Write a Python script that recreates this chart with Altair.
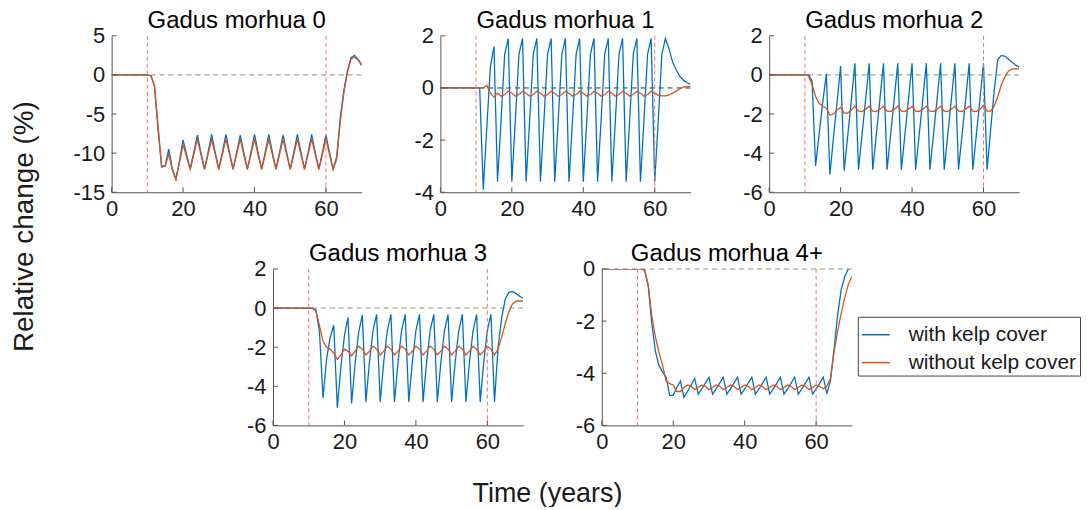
import altair as alt
import pandas as pd

FONT = "Liberation Sans"

YEARS = list(range(71))
SERIES = ["with kelp cover", "without kelp cover"]
COLORS = ["#0072BD", "#D95319"]
XTICKS = [0, 20, 40, 60]
EVENTS = [10, 60]

TITLES = ["Gadus morhua 0", "Gadus morhua 1", "Gadus morhua 2",
          "Gadus morhua 3", "Gadus morhua 4+"]

GM0_WITH = [0, 0, 0, 0, 0, 0, 0, 0, 0, 0, 0,
            -0.1, -1.5, -7.0, -11.8, -11.6,
            -9.5, -12.0, -13.3, -11.0,
            -8.3, -10.2, -12.0, -9.9,
            -7.7, -9.9, -12.0, -9.9,
            -7.6, -9.9, -12.0, -9.9,
            -7.6, -9.9, -12.0, -9.9,
            -7.7, -9.9, -12.0, -9.9,
            -7.6, -9.9, -12.0, -9.9,
            -7.6, -9.9, -12.0, -9.9,
            -7.7, -9.9, -12.0, -9.9,
            -7.6, -9.9, -12.0, -9.9,
            -7.6, -9.9, -12.0, -9.9,
            -7.7, -9.9, -12.0, -10.5,
            -5.5, -2.0, 0.5, 2.2,
            2.5, 2.0, 1.3]
GM0_WITHOUT = [0, 0, 0, 0, 0, 0, 0, 0, 0, 0, 0,
               -0.1, -1.3, -6.5, -11.6, -11.7,
               -10.1, -12.2, -13.4, -11.2,
               -8.9, -10.5, -12.1, -10.2,
               -8.2, -10.2, -12.1, -10.2,
               -8.2, -10.2, -12.1, -10.2,
               -8.2, -10.2, -12.1, -10.2,
               -8.2, -10.2, -12.1, -10.2,
               -8.2, -10.2, -12.1, -10.2,
               -8.2, -10.2, -12.1, -10.2,
               -8.2, -10.2, -12.1, -10.2,
               -8.2, -10.2, -12.1, -10.2,
               -8.2, -10.2, -12.1, -10.2,
               -8.2, -10.2, -12.1, -10.8,
               -6.0, -2.3, 0.3, 2.0,
               2.3, 1.9, 1.2]

GM1_WITH = [0, 0, 0, 0, 0, 0, 0, 0, 0, 0, 0, 0,
            -3.9, -1.5, 0.8, 1.6,
            -3.6, -1.2, 1.3, 1.9,
            -3.6, -1.2, 1.3, 1.9,
            -3.6, -1.2, 1.3, 1.9,
            -3.6, -1.2, 1.3, 1.9,
            -3.6, -1.2, 1.3, 1.9,
            -3.6, -1.2, 1.3, 1.9,
            -3.6, -1.2, 1.3, 1.9,
            -3.6, -1.2, 1.3, 1.9,
            -3.6, -1.2, 1.3, 1.9,
            -3.6, -1.2, 1.3, 1.9,
            -3.6, -1.2, 1.3, 1.9,
            -3.6, -1.2, 1.3, 1.9,
            1.5, 1.0, 0.7, 0.45,
            0.3, 0.2, 0.15]
GM1_WITHOUT = [0, 0, 0, 0, 0, 0, 0, 0, 0, 0, 0, 0,
               0.0, 0.1, -0.2, -0.35,
               -0.2, -0.32, -0.25, -0.13,
               -0.2, -0.32, -0.25, -0.13,
               -0.2, -0.32, -0.25, -0.13,
               -0.2, -0.32, -0.25, -0.13,
               -0.2, -0.32, -0.25, -0.13,
               -0.2, -0.32, -0.25, -0.13,
               -0.2, -0.32, -0.25, -0.13,
               -0.2, -0.32, -0.25, -0.13,
               -0.2, -0.32, -0.25, -0.13,
               -0.2, -0.32, -0.25, -0.13,
               -0.2, -0.32, -0.25, -0.13,
               -0.2, -0.28, -0.3, -0.3,
               -0.27, -0.2, -0.12, -0.04,
               0.03, 0.05, 0.05]

GM2_WITH = [0, 0, 0, 0, 0, 0, 0, 0, 0, 0, 0, 0,
            -0.3, -4.65, -3.0, -1.4,
            0.06, -5.1, -3.2, -1.4,
            0.45, -4.9, -3.1, -1.3,
            0.6, -4.85, -3.05, -1.25,
            0.6, -4.85, -3.05, -1.25,
            0.6, -4.85, -3.05, -1.25,
            0.6, -4.85, -3.05, -1.25,
            0.6, -4.85, -3.05, -1.25,
            0.6, -4.85, -3.05, -1.25,
            0.6, -4.85, -3.05, -1.25,
            0.6, -4.85, -3.05, -1.25,
            0.6, -4.85, -3.05, -1.25,
            0.6, -4.85, -2.8, -0.8,
            0.8, 1.0, 0.95, 0.8,
            0.65, 0.5, 0.4]
GM2_WITHOUT = [0, 0, 0, 0, 0, 0, 0, 0, 0, 0, 0,
               -0.05, -0.5, -1.1, -1.45, -1.6,
               -1.7, -2.05, -2.0, -1.8,
               -1.65, -1.95, -1.95, -1.8,
               -1.6, -1.85, -1.87, -1.75,
               -1.6, -1.85, -1.87, -1.75,
               -1.6, -1.85, -1.87, -1.75,
               -1.6, -1.85, -1.87, -1.75,
               -1.6, -1.85, -1.87, -1.75,
               -1.6, -1.85, -1.87, -1.75,
               -1.6, -1.85, -1.87, -1.75,
               -1.6, -1.85, -1.87, -1.75,
               -1.6, -1.85, -1.87, -1.75,
               -1.55, -1.85, -1.85, -1.6,
               -1.1, -0.5, -0.1, 0.2,
               0.3, 0.32, 0.3]

GM3_WITH = [0, 0, 0, 0, 0, 0, 0, 0, 0, 0, 0, 0,
            -0.1, -1.2, -4.6, -2.6, -1.5,
            -0.88, -5.1, -3.0, -1.4,
            -0.48, -4.88, -2.8, -1.2,
            -0.35, -4.8, -2.75, -1.15,
            -0.32, -4.8, -2.75, -1.15,
            -0.32, -4.8, -2.75, -1.15,
            -0.32, -4.8, -2.75, -1.15,
            -0.32, -4.8, -2.75, -1.15,
            -0.32, -4.8, -2.75, -1.15,
            -0.32, -4.8, -2.75, -1.15,
            -0.32, -4.8, -2.75, -1.15,
            -0.32, -4.8, -2.75, -1.15,
            -0.32, -4.8, -2.0, -0.5,
            0.45, 0.8, 0.85, 0.75,
            0.6, 0.5]
GM3_WITHOUT = [0, 0, 0, 0, 0, 0, 0, 0, 0, 0, 0, 0,
               -0.15, -0.9, -1.7, -2.0,
               -2.1, -2.3, -2.62, -2.4,
               -2.1, -2.2, -2.45, -2.2,
               -1.95, -2.1, -2.4, -2.2,
               -1.95, -2.1, -2.4, -2.2,
               -1.95, -2.1, -2.4, -2.2,
               -1.95, -2.1, -2.4, -2.2,
               -1.95, -2.1, -2.4, -2.2,
               -1.95, -2.1, -2.4, -2.2,
               -1.95, -2.1, -2.4, -2.2,
               -1.95, -2.1, -2.4, -2.2,
               -1.95, -2.1, -2.4, -2.2,
               -1.95, -2.1, -2.4, -2.1,
               -1.5, -0.8, -0.2, 0.2,
               0.35, 0.37, 0.35]

GM4_WITH = [0, 0, 0, 0, 0, 0, 0, 0, 0, 0, 0, 0,
            -0.05, -0.65, -2.1, -3.15,
            -3.7, -3.95, -4.15, -4.85,
            -4.85, -4.55, -4.3, -4.92,
            -4.7, -4.45, -4.2, -4.8,
            -4.6, -4.38, -4.15, -4.8,
            -4.6, -4.38, -4.15, -4.8,
            -4.6, -4.38, -4.15, -4.8,
            -4.6, -4.38, -4.15, -4.8,
            -4.6, -4.38, -4.15, -4.8,
            -4.6, -4.38, -4.15, -4.8,
            -4.6, -4.38, -4.15, -4.8,
            -4.6, -4.38, -4.15, -4.8,
            -4.6, -4.38, -4.15, -4.78,
            -4.3, -3.1, -1.8, -0.8,
            -0.3, 0.0, 0.15]
GM4_WITHOUT = [0, 0, 0, 0, 0, 0, 0, 0, 0, 0, 0, 0,
               -0.05, -0.6, -1.8, -2.6,
               -3.2, -3.7, -4.3, -4.4,
               -4.45, -4.7, -4.7, -4.55,
               -4.45, -4.5, -4.63, -4.55,
               -4.45, -4.5, -4.63, -4.55,
               -4.45, -4.5, -4.63, -4.55,
               -4.45, -4.5, -4.63, -4.55,
               -4.45, -4.5, -4.63, -4.55,
               -4.45, -4.5, -4.63, -4.55,
               -4.45, -4.5, -4.63, -4.55,
               -4.45, -4.5, -4.63, -4.55,
               -4.45, -4.5, -4.63, -4.55,
               -4.45, -4.5, -4.6, -4.5,
               -4.2, -3.2, -2.4, -1.7,
               -1.1, -0.6, -0.3]

Y_DOMAINS = [[-15, 5], [-4, 2], [-6, 2], [-6, 2], [-6, 0]]
Y_TICKS = [[-15, -10, -5, 0, 5], [-4, -2, 0, 2], [-6, -4, -2, 0, 2],
           [-6, -4, -2, 0, 2], [-6, -4, -2, 0]]
ZERO_COLORS = ["#8c8c8c", "#333333", "#8c8c8c", "#8c8c8c", "#8c8c8c"]

W, H = 251, 157
AXIS_COLOR = "#555555"
TEXT_COLOR = "#1a1a1a"

LEGEND = alt.Legend(orient="none", legendX=749, legendY=282, title=None,
                    symbolType="stroke", symbolSize=784, symbolStrokeWidth=1.5,
                    labelFontSize=21, labelFont=FONT, labelColor=TEXT_COLOR,
                    labelLimit=0, strokeColor="#444444", fillColor="white",
                    padding=3, rowPadding=3, labelOffset=18, direction="vertical")


def panel(idx, w_vals, wo_vals, xtitle=False):
    df = pd.DataFrame({
        "t": YEARS + YEARS,
        "v": w_vals + wo_vals,
        "s": [SERIES[0]] * len(YEARS) + [SERIES[1]] * len(YEARS),
    })
    xs = alt.Scale(domain=[0, 70], nice=False, zero=False)
    ys = alt.Scale(domain=Y_DOMAINS[idx], nice=False, zero=False)
    common = dict(ticks=False, grid=False, labelFontSize=22, labelFont=FONT,
                  labelColor=TEXT_COLOR, domainColor=AXIS_COLOR, domainWidth=1,
                  labelFlush=False, labelOverlap=False, labelBound=False,
                  labelExpr="'' + datum.value")
    xaxis_kw = dict(values=XTICKS, labelPadding=6, **common)
    yaxis_kw = dict(values=Y_TICKS[idx], labelPadding=7, **common)
    if xtitle:
        xaxis = alt.Axis(title="Time (years)", titleFontSize=27, titleFont=FONT,
                         titleFontWeight="normal", titleColor=TEXT_COLOR,
                         titleX=275, titleY=76, titleBaseline="alphabetic",
                         titleAlign="center", **xaxis_kw)
    else:
        xaxis = alt.Axis(title=None, **xaxis_kw)
    yaxis = alt.Axis(title=None, **yaxis_kw)

    X = alt.X("t:Q", scale=xs, axis=xaxis)
    Y = alt.Y("v:Q", scale=ys, axis=yaxis)

    lines = alt.Chart(df).mark_line(strokeWidth=1.3, clip=True).encode(
        x=X, y=Y,
        color=alt.Color("s:N", scale=alt.Scale(domain=SERIES, range=COLORS),
                        legend=LEGEND),
    )
    zero = alt.Chart(pd.DataFrame({"v": [0]})).mark_rule(
        strokeDash=[5, 4], strokeWidth=1, color=ZERO_COLORS[idx]
    ).encode(y=Y)
    events = alt.Chart(pd.DataFrame({"t": EVENTS})).mark_rule(
        strokeDash=[4, 3], strokeWidth=1, color="#ff6b6b"
    ).encode(x=X)
    xt = alt.Chart(pd.DataFrame({"t": XTICKS})).mark_rule(
        color=AXIS_COLOR, strokeWidth=1
    ).encode(x=X, y=alt.value(H), y2=alt.value(H - 5))
    yt = alt.Chart(pd.DataFrame({"v": Y_TICKS[idx]})).mark_rule(
        color=AXIS_COLOR, strokeWidth=1
    ).encode(y=Y, x=alt.value(0), x2=alt.value(5))

    return alt.layer(zero, lines, events, xt, yt).properties(
        width=W, height=H,
        title=alt.TitleParams(TITLES[idx], fontSize=24, font=FONT,
                              fontWeight="normal", color="black",
                              anchor="middle", offset=-32, baseline="bottom",
                              frame="group"),
    )


spacer = alt.Chart(pd.DataFrame({"t": [0], "v": [0]})).mark_point(opacity=0).encode(
    x=alt.X("t:Q", axis=None), y=alt.Y("v:Q", axis=None)
).properties(width=83, height=H)

p0 = panel(0, GM0_WITH, GM0_WITHOUT)
p1 = panel(1, GM1_WITH, GM1_WITHOUT)
p2 = panel(2, GM2_WITH, GM2_WITHOUT)
p3 = panel(3, GM3_WITH, GM3_WITHOUT, xtitle=True)
p4 = panel(4, GM4_WITH, GM4_WITHOUT)

row1 = alt.hconcat(p0, p1, p2, spacing=79, bounds="flush")
row2 = alt.hconcat(spacer, p3, p4, spacing=79, bounds="flush")

chart = alt.vconcat(
    row1, row2, spacing=23, bounds="full",
    title=alt.TitleParams("Relative change (%)", orient="left", anchor="middle",
                          fontSize=28, font=FONT, fontWeight="normal",
                          color=TEXT_COLOR, offset=34, dx=31),
).properties(
    padding={"left": 3, "top": 0, "right": 0, "bottom": 0},
).configure(
    font=FONT,
    view=alt.ViewConfig(stroke=None),
    axis=alt.AxisConfig(labelOverlap=False),
)

chart.save("out.html", embed_options={"renderer": "svg", "actions": False})
